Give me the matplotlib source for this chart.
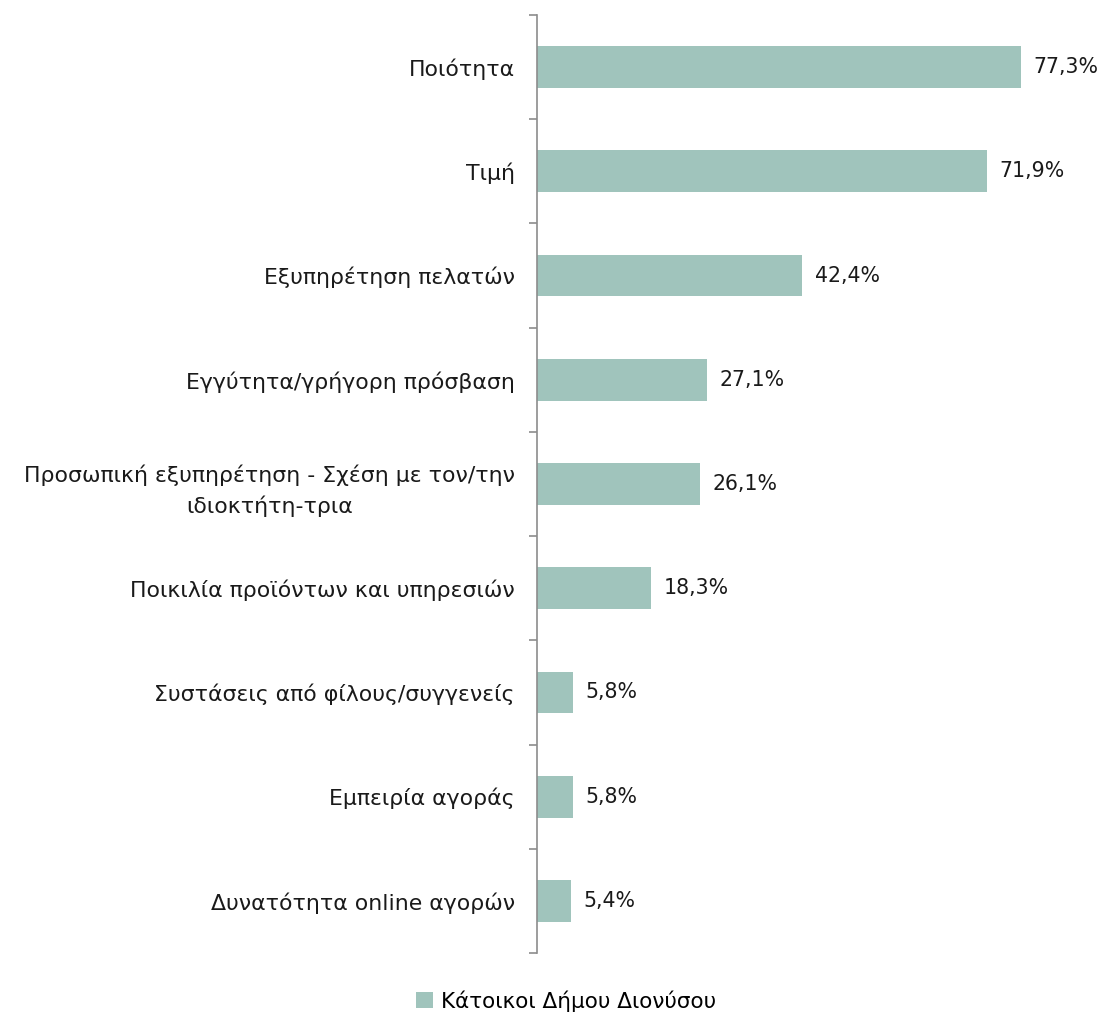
import matplotlib.pyplot as plt

plt.rcParams['font.family'] = ['DejaVu Sans']

# data
categories = ["Ποιότητα", "Τιμή", "Εξυπηρέτηση πελατών", "Εγγύτητα/γρήγορη πρόσβαση",
              "Προσωπική εξυπηρέτηση - Σχέση με τον/την\nιδιοκτήτη-τρια",
              "Ποικιλία προϊόντων και υπηρεσιών", "Συστάσεις από φίλους/συγγενείς",
              "Εμπειρία αγοράς", "Δυνατότητα online αγορών"]
values = [77.3, 71.9, 42.4, 27.1, 26.1, 18.3, 5.8, 5.8, 5.4]
series_name = "Κάτοικοι Δήμου Διονύσου"

bar_color = "#a0c4bc"
text_color = "#1a1a1a"

fig = plt.figure(figsize=(11.02, 10.13), dpi=100)
ax = fig.add_axes([537 / 1102, 1 - 953 / 1013, (1100 - 537) / 1102, (953 - 15) / 1013])

n = len(categories)
pos = list(range(n))
bars = ax.barh(pos, values, height=0.4, color=bar_color, label=series_name)
ax.set_ylim(n - 0.5, -0.5)
ax.set_xlim(0, 90)

for p, v in zip(pos, values):
    ax.text(v + 2.0, p, f"{v:.1f}%".replace(".", ","), va="center", ha="left",
            fontsize=14.8, color=text_color)

# labels at category centres, ticks at boundaries
ax.set_yticks(pos)
ax.set_yticklabels(categories, fontsize=15.8, color=text_color)
ax.tick_params(axis="y", which="major", length=0, pad=16)
ax.set_yticks([i - 0.5 for i in range(n + 1)], minor=True)
ax.tick_params(axis="y", which="minor", length=6, color="#8c8c8c", width=1.2)
for lbl in ax.get_yticklabels():
    lbl.set_multialignment("center")
    lbl.set_linespacing(1.55)

ax.set_xticks([])
for s in ["top", "right", "bottom"]:
    ax.spines[s].set_visible(False)
ax.spines["left"].set_color("#8c8c8c")
ax.spines["left"].set_linewidth(1.2)

fig.legend(handles=[bars], labels=[series_name], loc="lower center",
           bbox_to_anchor=(0.514, -0.018), frameon=False, fontsize=15.5,
           handlelength=0.75, handleheight=0.75, handletextpad=0.4)

fig.savefig("out.png", dpi=100)
